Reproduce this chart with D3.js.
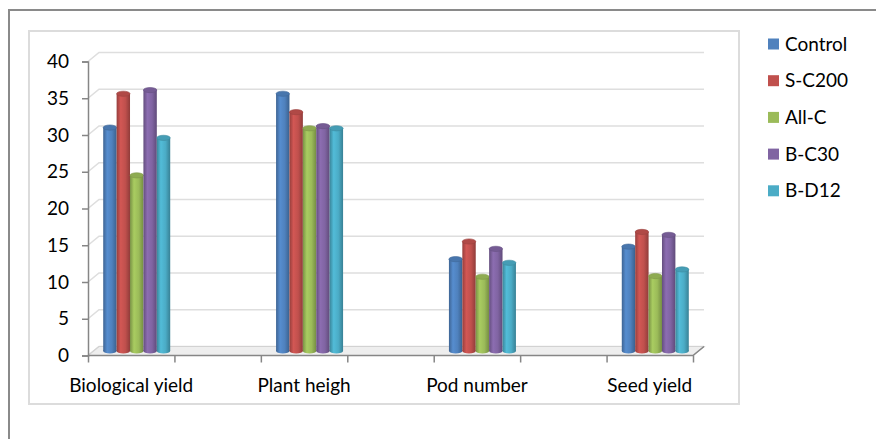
<!DOCTYPE html>
<html>
<head>
<meta charset="utf-8">
<script src="https://cdn.jsdelivr.net/npm/d3@7/dist/d3.min.js"></script>
<style>
  html, body { margin: 0; padding: 0; background: #fff; }
  svg { display: block; }
  text { font-family: Lato, "Open Sans", sans-serif; fill: #000; }
</style>
</head>
<body>
<svg id="chart" width="876" height="439"></svg>
<script>
// Categories shown along the floor of the 3-D column chart
const categories = ["Biological yield", "Plant heigh", "Pod number", "Seed yield"];
// One value per category for each treatment
const seriesNames = ["Control", "S-C200", "All-C", "B-C30", "B-D12"];
const control = [30.4, 35.0, 12.5, 14.2];
const sC200   = [35.0, 32.5, 14.9, 16.2];
const allC    = [23.9, 30.3, 10.1, 10.2];
const bC30    = [35.5, 30.6, 13.9, 15.8];
const bD12    = [29.0, 30.3, 12.0, 11.1];
const seriesColors = ["#4F81BD", "#C0504D", "#9BBB59", "#8064A2", "#4BACC6"];
const yTicks = [0, 5, 10, 15, 20, 25, 30, 35, 40];

const series = [control, sC200, allC, bC30, bD12];

const svg = d3.select("#chart");
const defs = svg.append("defs");

// Outer frame and plot-area frame
svg.append("rect").attr("x", 9).attr("y", 10).attr("width", 900).attr("height", 500)
  .attr("fill", "none").attr("stroke", "#8a8a8a").attr("stroke-width", 2);
svg.append("rect").attr("x", 29).attr("y", 31).attr("width", 710).attr("height", 373)
  .attr("fill", "#fff").attr("stroke", "#dcdcdc").attr("stroke-width", 2);

// Geometry of the 3-D box
const left = 88, right = 693;
const depthX = 11, depthY = -9;          // offset from front plane to back wall
const slots = 7;                          // category slots along the axis (labels on even slots)

const x = d3.scaleLinear().domain([0, slots]).range([left, right]);
const y = d3.scaleLinear().domain([0, 40]).range([355.5, 61.5]);

// Back-wall gridlines with the short diagonal on the side wall
const grid = svg.append("g").attr("fill", "none").attr("stroke", "#dedede").attr("stroke-width", 1.6);
yTicks.forEach(v => {
  const yf = y(v);
  grid.append("path")
    .attr("d", `M${left},${yf}L${left + depthX},${yf + depthY}L${right + depthX},${yf + depthY}`);
});

// Floor
svg.append("path")
  .attr("d", `M${left},${y(0)}L${right},${y(0)}L${right + depthX},${y(0) + depthY}L${left + depthX},${y(0) + depthY}Z`)
  .attr("fill", "#eeeeee").attr("stroke", "#d2d2d2").attr("stroke-width", 1.2);

// Cylinder gradients
seriesColors.forEach((c, i) => {
  const base = d3.color(c);
  const g = defs.append("linearGradient").attr("id", "cyl" + i)
    .attr("x1", "0%").attr("x2", "100%").attr("y1", "0%").attr("y2", "0%");
  g.append("stop").attr("offset", "0%").attr("stop-color", base.darker(0.7));
  g.append("stop").attr("offset", "30%").attr("stop-color", base.brighter(0.25));
  g.append("stop").attr("offset", "65%").attr("stop-color", base);
  g.append("stop").attr("offset", "100%").attr("stop-color", base.darker(0.8));
});

// Bars sit halfway into the depth of the box
const barW = 13.4;
const groupW = barW * seriesNames.length;
const inner = d3.scaleBand().domain(seriesNames).range([-groupW / 2, groupW / 2]);
const yb = v => y(v) + depthY / 2;
const ry = 2.6;

const bars = svg.append("g");
categories.forEach((cat, ci) => {
  const cxGroup = x(ci * 2 + 0.5) + depthX / 2;
  seriesNames.forEach((name, si) => {
    const v = series[si][ci];
    const x0 = cxGroup + inner(name);
    const cx = x0 + barW / 2;
    const yTop = yb(v), yBot = yb(0);
    const g = bars.append("g");
    g.append("ellipse").attr("cx", cx).attr("cy", yBot).attr("rx", barW / 2).attr("ry", ry)
      .attr("fill", `url(#cyl${si})`);
    g.append("rect").attr("x", x0).attr("y", yTop).attr("width", barW).attr("height", yBot - yTop)
      .attr("fill", `url(#cyl${si})`);
    g.append("ellipse").attr("cx", cx).attr("cy", yTop).attr("rx", barW / 2).attr("ry", ry)
      .attr("fill", d3.color(seriesColors[si]).darker(0.25))
      .attr("stroke", d3.color(seriesColors[si]).darker(0.6)).attr("stroke-width", 0.6);
  });
});

// Value axis
const yAxis = svg.append("g").attr("transform", `translate(${left},0)`)
  .call(d3.axisLeft(y).tickValues(yTicks).tickSize(6).tickPadding(13));
yAxis.select(".domain").attr("stroke", "#868686").attr("stroke-width", 1.5);
yAxis.selectAll(".tick line").attr("stroke", "#868686").attr("stroke-width", 1.5);
yAxis.selectAll(".tick text").attr("font-size", 19).attr("font-family", "Lato, sans-serif").attr("fill", "#000");

// Category axis along the front edge of the floor
const xAxis = svg.append("g").attr("transform", `translate(0,${y(0)})`)
  .call(d3.axisBottom(x).tickValues(d3.range(slots + 1)).tickFormat("").tickSize(7));
xAxis.select(".domain").remove();
xAxis.selectAll(".tick line").attr("stroke", "#868686").attr("stroke-width", 1.5);
svg.append("path")
  .attr("d", `M${left},${y(0)}L${right},${y(0)}L${right + depthX},${y(0) + depthY}`)
  .attr("fill", "none").attr("stroke", "#868686").attr("stroke-width", 1.5);

svg.append("g").selectAll("text").data(categories).join("text")
  .attr("x", (d, i) => x(i * 2 + 0.5))
  .attr("y", 392)
  .attr("text-anchor", "middle")
  .attr("font-size", 19)
  .text(d => d);

// Legend
const legend = svg.append("g");
seriesNames.forEach((name, i) => {
  const ly = 44 + i * 36.7;
  legend.append("rect").attr("x", 768).attr("y", ly - 5.5).attr("width", 11).attr("height", 11)
    .attr("fill", seriesColors[i]);
  legend.append("text").attr("x", 785).attr("y", ly + 6.5).attr("font-size", 19).text(name);
});
</script>
</body>
</html>
